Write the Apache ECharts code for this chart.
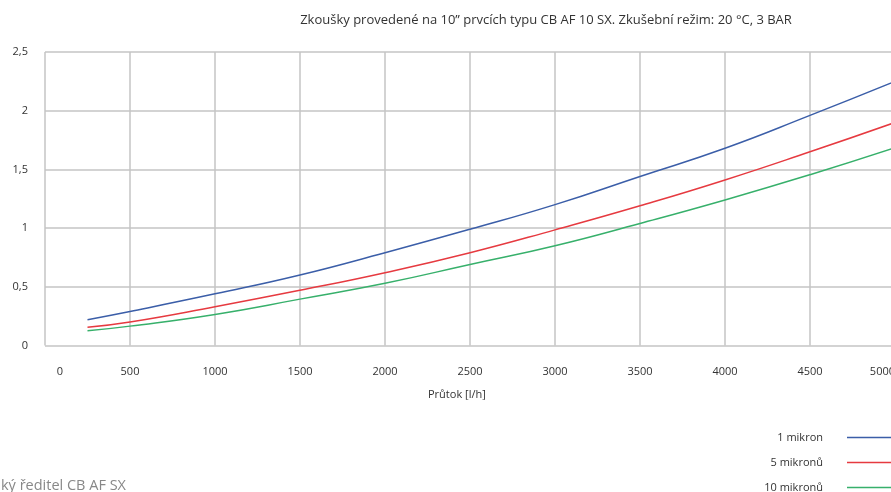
<!DOCTYPE html>
<html>
<head>
<meta charset="utf-8">
<script src="https://cdn.jsdelivr.net/npm/echarts@6/dist/echarts.min.js"></script>
<style>html,body{margin:0;padding:0;background:#fff;}#c{width:891px;height:492px;}</style>
</head>
<body>
<div id="c"></div>
<script>
const flow = [250, 500, 1000, 1500, 2000, 2500, 3000, 3500, 4000, 4500, 5000];
const mikron1 = [0.22, 0.29, 0.44, 0.60, 0.79, 0.99, 1.20, 1.44, 1.68, 1.96, 2.25];
const mikron5 = [0.155, 0.20, 0.33, 0.47, 0.62, 0.79, 0.985, 1.19, 1.41, 1.65, 1.90];
const mikron10 = [0.125, 0.165, 0.265, 0.395, 0.53, 0.69, 0.85, 1.04, 1.24, 1.455, 1.685];
const seriesNames = ['1 mikron', '5 mikronů', '10 mikronů'];
const titleText = 'Zkoušky provedené na 10” prvcích typu CB AF 10 SX. Zkušební režim: 20 °C, 3 BAR';
const xName = 'Průtok [l/h]';
const footerText = 'ký ředitel CB AF SX';

const font = '"Open Sans", "Noto Sans", sans-serif';
const colors = ['#3b5ea8', '#e63a40', '#37b06b'];
const pairs = arr => flow.map((f, i) => [f, arr[i]]);

const chart = echarts.init(document.getElementById('c'), null, {renderer: 'canvas'});
chart.setOption({
  animation: false,
  backgroundColor: '#fff',
  textStyle: {fontFamily: font},
  title: {
    text: titleText,
    left: 541, top: 9, textAlign: 'center',
    textStyle: {fontSize: 13, fontWeight: 'normal', color: '#333', fontFamily: font}
  },
  grid: {left: 45, top: 52, right: -4, bottom: 146.5, containLabel: false, outerBoundsMode: 'none'},
  xAxis: {
    type: 'value', min: 0, max: 5000, interval: 500,
    axisLine: {show: false}, axisTick: {show: false},
    splitLine: {show: true, lineStyle: {color: '#c4c4c4', width: 1.5}},
    axisLabel: {
      margin: 21, fontSize: 11, color: '#333', fontFamily: font,
      alignMaxLabel: 'right',
      formatter: v => v === 0 ? '{z|0}' : String(v),
      rich: {z: {padding: [0, 0, 0, 30], fontSize: 11, color: '#333', fontFamily: font}}
    }
  },
  yAxis: {
    type: 'value', min: 0, max: 2.5, interval: 0.5,
    axisLine: {show: false}, axisTick: {show: false},
    splitLine: {show: true, lineStyle: {color: '#c4c4c4', width: 1.5}},
    axisLabel: {
      margin: 17, fontSize: 11, color: '#333', fontFamily: font,
      formatter: v => String(v).replace('.', ',')
    }
  },
  legend: {
    orient: 'vertical', right: -4, top: 432, height: 100, padding: 0, align: 'right',
    icon: 'rect', itemWidth: 48, itemHeight: 1.5, itemGap: 14,
    textStyle: {fontSize: 11, color: '#333', fontFamily: font, padding: [0, 19, 0, 0]},
    data: seriesNames
  },
  graphic: [
    {type: 'text', left: 458 - 30, top: 389, style: {text: xName, fontSize: 11, fill: '#333', fontFamily: font}},
    {type: 'text', left: 1, top: 478, style: {text: footerText, fontSize: 14.5, fill: '#888', fontFamily: font}}
  ],
  series: [mikron1, mikron5, mikron10].map((d, i) => ({
    name: seriesNames[i], type: 'line', data: pairs(d), smooth: true,
    showSymbol: false, symbol: 'none',
    lineStyle: {color: colors[i], width: 1.5},
    itemStyle: {color: colors[i]}
  }))
});
</script>
</body>
</html>
